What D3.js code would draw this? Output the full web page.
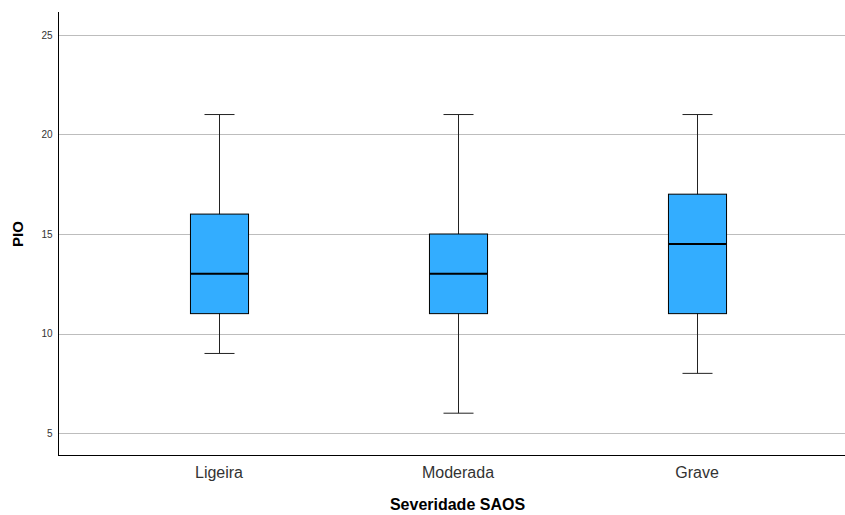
<!DOCTYPE html>
<html lang="pt">
  <head>
    <meta charset="UTF-8" />
    <title>PIO por Severidade SAOS</title>
    <script src="https://d3js.org/d3.v7.min.js"></script>
    <style>
      body {
        margin: 0;
        background: #fff;
        font-family: Roboto, Arial, sans-serif;
      }
      .grid line {
        stroke: #bdbdbd;
        stroke-width: 1;
      }
      .box {
        fill: #33adff;
        stroke: #000;
        stroke-width: 1;
      }
    </style>
  </head>
  <body>
    <div id="chart"></div>
    <script>
      // dados
      const categories = ["Ligeira", "Moderada", "Grave"];
      const minValues = [9, 6, 8];
      const q1Values = [11, 11, 11];
      const medianValues = [13, 13, 14.5];
      const q3Values = [16, 15, 17];
      const maxValues = [21, 21, 21];
      const yTicks = [5, 10, 15, 20, 25];

      const width = 845;
      const height = 515;
      const plotLeft = 58, plotRight = 845, plotTop = 12, plotBottom = 455;

      const svg = d3
        .select("#chart")
        .append("svg")
        .attr("width", width)
        .attr("height", height);

      const x = d3.scaleBand().domain(categories).range([99.5, 816.5]).padding(0);
      const y = d3.scaleLinear().domain([3.9, 26.15]).range([plotBottom, plotTop]);

      const boxW = x.bandwidth() * 0.243;
      const capW = 30;

      // grelha
      svg
        .append("g")
        .attr("class", "grid")
        .selectAll("line")
        .data(yTicks)
        .join("line")
        .attr("x1", plotLeft)
        .attr("x2", plotRight)
        .attr("y1", (d) => Math.round(y(d)) + 0.5)
        .attr("y2", (d) => Math.round(y(d)) + 0.5);

      // eixo y
      const yAxis = svg
        .append("g")
        .attr("transform", `translate(${plotLeft + 0.5},0)`)
        .call(d3.axisLeft(y).tickValues(yTicks).tickSize(0).tickPadding(6));
      yAxis.select(".domain").remove();
      yAxis.selectAll("text").attr("font-size", 10).attr("fill", "#333").attr("font-family", "Arial, sans-serif");

      // eixo x
      const xAxis = svg
        .append("g")
        .attr("transform", `translate(0,${plotBottom + 0.5})`)
        .call(d3.axisBottom(x).tickSize(0).tickPadding(11));
      xAxis.select(".domain").remove();
      xAxis.selectAll("text").attr("font-size", 16).attr("fill", "#333").attr("font-weight", 300);

      svg
        .append("line")
        .attr("x1", plotLeft + 0.5)
        .attr("x2", plotLeft + 0.5)
        .attr("y1", plotTop)
        .attr("y2", plotBottom + 1)
        .attr("stroke", "#000");
      svg
        .append("line")
        .attr("x1", plotLeft)
        .attr("x2", plotRight)
        .attr("y1", plotBottom + 0.5)
        .attr("y2", plotBottom + 0.5)
        .attr("stroke", "#000");

      // caixas
      const g = svg
        .append("g")
        .selectAll("g")
        .data(categories)
        .join("g")
        .attr("transform", (d) => `translate(${Math.round(x(d) + x.bandwidth() / 2) + 0.5},0)`);

      g.append("line")
        .attr("y1", (d, i) => y(maxValues[i]))
        .attr("y2", (d, i) => y(minValues[i]))
        .attr("stroke", "#222");

      g.append("line")
        .attr("x1", -capW / 2)
        .attr("x2", capW / 2)
        .attr("y1", (d, i) => y(maxValues[i]))
        .attr("y2", (d, i) => y(maxValues[i]))
        .attr("stroke", "#222");
      g.append("line")
        .attr("x1", -capW / 2)
        .attr("x2", capW / 2)
        .attr("y1", (d, i) => y(minValues[i]))
        .attr("y2", (d, i) => y(minValues[i]))
        .attr("stroke", "#222");

      g.append("rect")
        .attr("class", "box")
        .attr("x", -boxW / 2)
        .attr("width", boxW)
        .attr("y", (d, i) => y(q3Values[i]))
        .attr("height", (d, i) => y(q1Values[i]) - y(q3Values[i]));

      g.append("line")
        .attr("x1", -boxW / 2)
        .attr("x2", boxW / 2)
        .attr("y1", (d, i) => y(medianValues[i]))
        .attr("y2", (d, i) => y(medianValues[i]))
        .attr("stroke", "#000")
        .attr("stroke-width", 2);

      // títulos
      svg
        .append("text")
        .attr("x", (plotLeft + plotRight) / 2 + 6)
        .attr("y", 510)
        .attr("text-anchor", "middle")
        .attr("font-size", 16)
        .attr("font-weight", "bold")
        .attr("font-family", "Arial, sans-serif")
        .text("Severidade SAOS");

      svg
        .append("text")
        .attr("transform", "translate(23,234) rotate(-90)")
        .attr("text-anchor", "middle")
        .attr("font-size", 15)
        .attr("font-weight", "bold")
        .attr("font-family", "Arial, sans-serif")
        .text("PIO");
    </script>
  </body>
</html>
